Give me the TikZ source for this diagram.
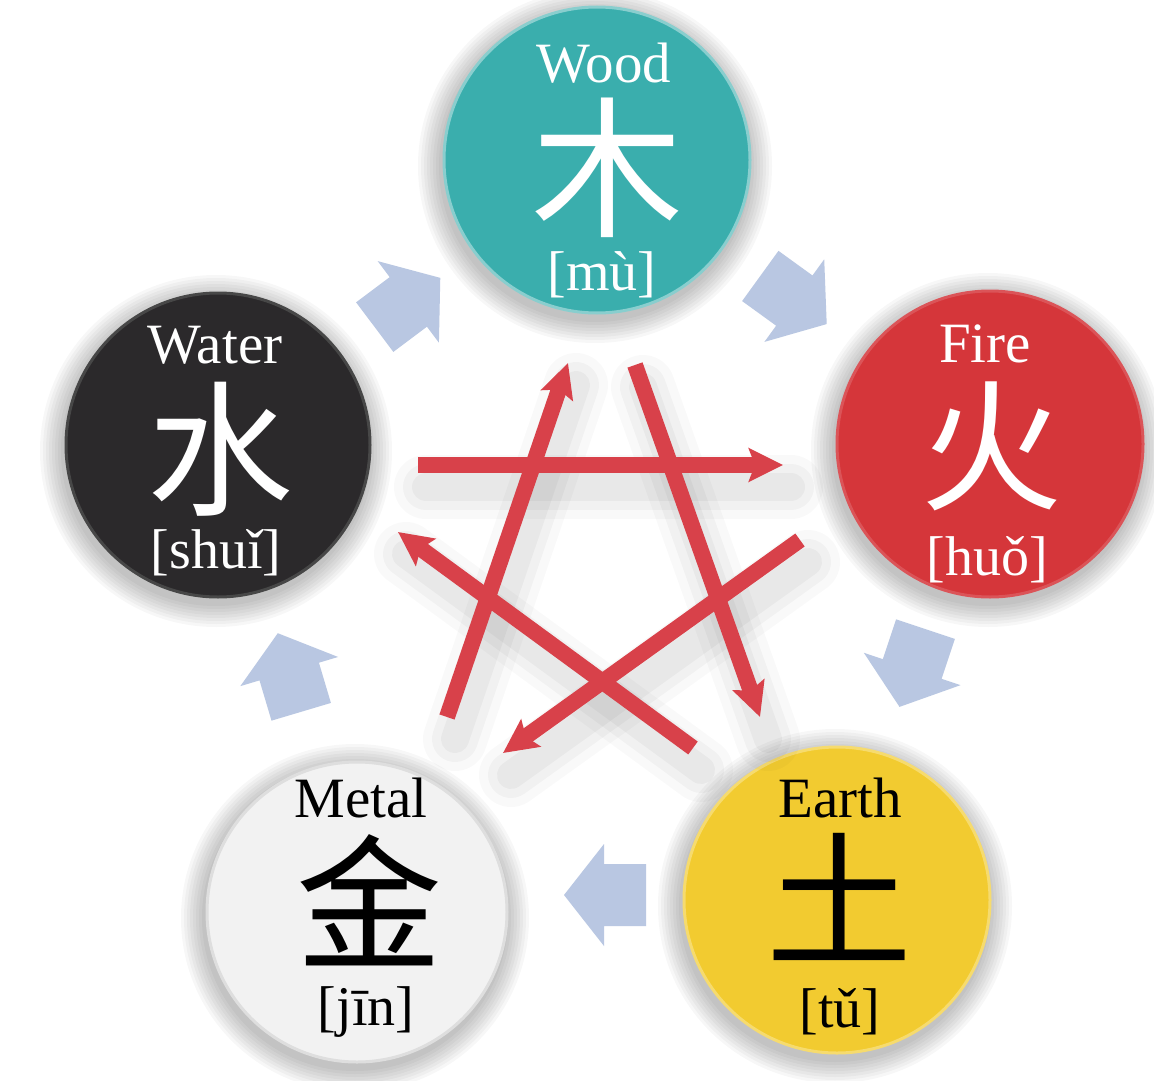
\documentclass[tikz,border=0pt]{standalone}
\usepackage{fontspec}
\setmainfont{Liberation Serif}
\newfontfamily\cjk{Noto Sans CJK SC}
\usetikzlibrary{arrows.meta,calc}
\definecolor{woodC}{HTML}{3AAEAD}
\definecolor{fireC}{HTML}{D5363A}
\definecolor{waterC}{HTML}{2B292B}
\definecolor{earthC}{HTML}{F2CB30}
\definecolor{metalC}{HTML}{F2F2F2}
\definecolor{flowC}{HTML}{B9C7E2}
\definecolor{starC}{HTML}{D8414A}
\begin{document}
\begin{tikzpicture}[x=1pt,y=-1pt,
  elem/.style={circle, inner sep=0pt, minimum size=306pt, line width=3pt},
  title/.style={inner sep=0pt, anchor=base, font=\fontsize{57}{60}\selectfont},
  hanzi/.style={inner sep=0pt, anchor=center, font=\cjk\fontsize{#1}{#1}\selectfont},
  hanzi/.default=150,
  pinyin/.style={inner sep=0pt, anchor=base, font=\fontsize{56}{60}\selectfont},
  ke/.style={draw=starC, line width=16pt, -{Stealth[length=34pt,width=33pt,inset=6pt]}},
  keshadow/.style={draw=black, line cap=round},
  flowarrow/.pic={\fill[flowC] (-41,-31) -- (1,-31) -- (1,-51) -- (41,0) -- (1,51) -- (1,31) -- (-41,31) -- cycle;}
]
\useasboundingbox (0,0) rectangle (1154,1081);
\fill[white] (0,0) rectangle (1154,1081);

\coordinate (cWood) at (597,160);
\coordinate (cFire) at (990,444);
\coordinate (cEarth) at (837,900);
\coordinate (cMetal) at (357,912);
\coordinate (cWater) at (218,445);

% soft shadows of the circles
\foreach \c/\r in {cWood/153,cFire/153,cEarth/153,cMetal/150,cWater/152}{
  \foreach \i in {1,...,8}{
    \fill[black, opacity=0.03] ($(\c)+(-2,6)$) circle[radius={\r+3*\i}];
  }
}

% elements
\node[elem, fill=woodC, draw=woodC!60!white] (wood) at (cWood) {};
\node[elem, fill=fireC, draw=fireC!85!white] (fire) at (cFire) {};
\node[elem, fill=earthC, draw=earthC!70!white] (earth) at (cEarth) {};
\node[elem, fill=metalC, draw=black!13, minimum size=300pt] (metal) at (cMetal) {};
\node[elem, fill=waterC, draw=black!72, minimum size=304pt] (water) at (cWater) {};

\node[title, text=white] (woodT) at (604,83) {Wood};
\node[hanzi=152, text=white] (woodH) at (607,168) {木};
\node[pinyin, text=white] (woodP) at (602,290) {[mù]};

\node[title, text=white] (fireT) at (985,362) {Fire};
\node[hanzi=142, text=white] (fireH) at (991,446) {火};
\node[pinyin, text=white] (fireP) at (987,575) {[huǒ]};

\node[title, text=white] (waterT) at (215,363) {Water};
\node[hanzi=146, text=white] (waterH) at (220,449) {水};
\node[pinyin, text=white] (waterP) at (216,568) {[shuǐ]};

\node[title, text=black] (earthT) at (840,817) {Earth};
\node[hanzi=146, text=black] (earthH) at (839,897) {土};
\node[pinyin, text=black] (earthP) at (840,1027) {[tǔ]};

\node[title, text=black] (metalT) at (361,817) {Metal};
\node[hanzi=146, text=black] (metalH) at (369,900) {金};
\node[pinyin, text=black] (metalP) at (366,1025) {[jīn]};

% generating cycle: block arrows between the circles
\coordinate (f1) at ($(water.center)!0.5!(wood.center)$);
\coordinate (f2) at ($(wood.center)!0.5!(fire.center)+(0,-2)$);
\coordinate (f3) at ($(fire.center)!0.5!(earth.center)+(-1,-4)$);
\coordinate (f4) at ($(earth.center)!0.5!(metal.center)+(8,-11)$);
\coordinate (f5) at ($(metal.center)!0.5!(water.center)+(2,-6)$);
\pic[rotate=36.9] at (f1) {flowarrow};
\pic[rotate=-35.9] at (f2) {flowarrow};
\pic[rotate=-108.5] at (f3) {flowarrow};
\pic[rotate=180] at (f4) {flowarrow};
\pic[rotate=106.6] at (f5) {flowarrow};

% overcoming cycle: red star
\coordinate (k1a) at (418,465); \coordinate (k1b) at (783,465);
\coordinate (k2a) at (800,540); \coordinate (k2b) at (503,753);
\coordinate (k3a) at (447,717); \coordinate (k3b) at (568,363);
\coordinate (k4a) at (635,365); \coordinate (k4b) at (760,717);
\coordinate (k5a) at (693,748); \coordinate (k5b) at (398,532);

\begin{scope}[transform canvas={shift={(8pt,-22pt)}}]
  \foreach \w/\o in {64/0.025,46/0.03,28/0.035}{
    \draw[keshadow, line width=\w pt, opacity=\o] (k1a) -- (k1b);
    \draw[keshadow, line width=\w pt, opacity=\o] (k2a) -- (k2b);
    \draw[keshadow, line width=\w pt, opacity=\o] (k3a) -- (k3b);
    \draw[keshadow, line width=\w pt, opacity=\o] (k4a) -- (k4b);
    \draw[keshadow, line width=\w pt, opacity=\o] (k5a) -- (k5b);
  }
\end{scope}

\draw[ke] (k1a) -- (k1b);
\draw[ke] (k2a) -- (k2b);
\draw[ke] (k3a) -- (k3b);
\draw[ke] (k4a) -- (k4b);
\draw[ke] (k5a) -- (k5b);
\end{tikzpicture}
\end{document}
